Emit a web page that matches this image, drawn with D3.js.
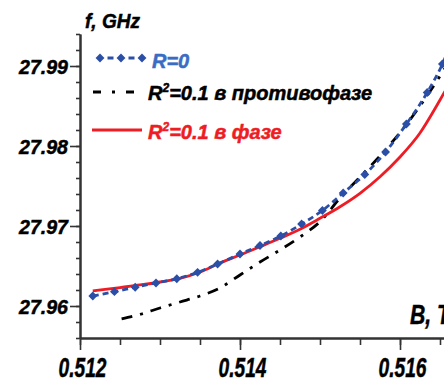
<!DOCTYPE html>
<html>
<head>
<meta charset="utf-8">
<script src="https://cdn.jsdelivr.net/npm/d3@7"></script>
<style>
body { margin: 0; background: #fff; }
svg { display: block; }
text { font-family: "Liberation Sans", Arial, sans-serif; font-weight: bold; font-style: italic; stroke-width: 0.5px; }
</style>
</head>
<body>
<svg id="chart"></svg>
<script>
// magnetic field B, T and frequency f, GHz
var blueB = [0.51216, 0.51243, 0.51269, 0.51295, 0.51321, 0.51347, 0.51372, 0.51400, 0.51425, 0.51451,
	0.51477, 0.51503, 0.51529, 0.51556, 0.51582, 0.51608, 0.51634, 0.51653, 0.51666];
var blueF = [27.96125, 27.96179, 27.96234, 27.96288, 27.96341, 27.96421, 27.96525, 27.96650, 27.96756, 27.96875,
	27.97025, 27.97194, 27.97413, 27.97644, 27.97925, 27.98275, 27.98669, 27.99025, 27.99350];

var blackB = [0.51252, 0.51277, 0.51300, 0.51325, 0.51350, 0.51375, 0.51400, 0.51425, 0.51450, 0.51475,
	0.51500, 0.51525, 0.51550, 0.51575, 0.51600, 0.51625, 0.51660];
var blackF = [27.95838, 27.95900, 27.95975, 27.96050, 27.96125, 27.96225, 27.96388, 27.96550, 27.96700, 27.96863,
	27.97054, 27.97350, 27.97613, 27.97875, 27.98168, 27.98500, 27.99030];

var redB = [0.51216, 0.51250, 0.51275, 0.51300, 0.51325, 0.51350, 0.51375, 0.51400, 0.51425, 0.51450,
	0.51475, 0.51500, 0.51525, 0.51550, 0.51575, 0.51600, 0.51625, 0.51650, 0.51660];
var redF = [27.96188, 27.96231, 27.96263, 27.96300, 27.96344, 27.96425, 27.96538, 27.96638, 27.96741, 27.96846,
	27.96959, 27.97096, 27.97241, 27.97409, 27.97616, 27.97863, 27.98163, 27.98575, 27.98750];

var xMajor = [0.512, 0.514, 0.516];
var xMinor = [0.512, 0.5125, 0.513, 0.5135, 0.514, 0.5145, 0.515, 0.5155, 0.516, 0.5165];
var yMajor = [27.96, 27.97, 27.98, 27.99];
var yMinor = [27.956, 27.958, 27.96, 27.962, 27.964, 27.966, 27.968, 27.97, 27.972, 27.974, 27.976,
	27.978, 27.98, 27.982, 27.984, 27.986, 27.988, 27.99, 27.992, 27.994];

var legendLabels = ["R=0", "=0.1 в противофазе", "=0.1 в фазе"];

var width = 444, height = 382;
var blue = "#2b4ea6", blueText = "#3a6cc4", red = "#ee1c25", axisCol = "#333";

var svg = d3.select("#chart").attr("width", width).attr("height", height);

var xScale = d3.scaleLinear().domain([0.512, 0.51655]).range([80, 444]);
var yScale = d3.scaleLinear().domain([27.956, 27.994]).range([338, 34]);

function zip(a, b){ return a.map(function(d, i){ return {B: d, f: b[i]}; }); }
var blueData = zip(blueB, blueF), blackData = zip(blackB, blackF), redData = zip(redB, redF);

svg.append("clipPath").attr("id", "plotclip")
	.append("rect").attr("x", 80).attr("y", 0).attr("width", 380).attr("height", 338);

var line = d3.line()
	.x(function(d){ return xScale(d.B); })
	.y(function(d){ return yScale(d.f); })
	.curve(d3.curveMonotoneX);

var plot = svg.append("g").attr("clip-path", "url(#plotclip)");

plot.append("path").datum(blackData)
	.attr("d", line).style("fill", "none").style("stroke", "#000")
	.style("stroke-width", 2.8).style("stroke-dasharray", "11,8,3,8");

plot.append("path").datum(redData)
	.attr("d", line).style("fill", "none").style("stroke", red).style("stroke-width", 2.8);

plot.append("path").datum(blueData)
	.attr("d", line).style("fill", "none").style("stroke", blue)
	.style("stroke-width", 2.8).style("stroke-dasharray", "6,4");

var diamond = d3.symbol().type(d3.symbolDiamond2 || d3.symbolDiamond).size(50);
plot.selectAll(".mk").data(blueData).enter().append("path")
	.attr("class", "mk")
	.attr("d", diamond)
	.attr("transform", function(d){ return "translate(" + xScale(d.B) + "," + yScale(d.f) + ")"; })
	.style("fill", blue);

// axes
var gx = svg.append("g").attr("transform", "translate(0,338)");
gx.call(d3.axisBottom(xScale).tickValues(xMinor).tickSize(7).tickSizeOuter(0).tickFormat(""));
gx.append("g").call(d3.axisBottom(xScale).tickValues(xMajor).tickSize(12).tickSizeOuter(0)
	.tickFormat(d3.format(".3f")).tickPadding(4));

var gy = svg.append("g").attr("transform", "translate(80,0)");
gy.call(d3.axisLeft(yScale).tickValues(yMinor).tickSize(4).tickSizeOuter(0).tickFormat(""));
gy.append("g").call(d3.axisLeft(yScale).tickValues(yMajor).tickSize(10).tickSizeOuter(0)
	.tickFormat(d3.format(".2f")).tickPadding(3));

svg.selectAll(".domain").style("stroke", axisCol).style("stroke-width", 2);
svg.selectAll(".tick line").style("stroke", axisCol).style("stroke-width", 1.6);

gx.selectAll(".tick text")
	.attr("y", null).attr("dy", null)
	.attr("x", 2)
	.attr("transform", "translate(0,39)")
	.attr("textLength", 48).attr("lengthAdjust", "spacingAndGlyphs")
	.style("font-size", "28px").style("fill", "#000").style("stroke", "#000")
	.style("font-family", "'Liberation Sans', Arial, sans-serif");

gy.selectAll(".tick text")
	.attr("x", -12).attr("dy", "0.36em")
	.attr("textLength", 49).attr("lengthAdjust", "spacingAndGlyphs")
	.style("font-size", "21px").style("fill", "#000").style("stroke", "#000")
	.style("font-family", "'Liberation Sans', Arial, sans-serif");

// axis titles
svg.append("text").attr("x", 85).attr("y", 28)
	.attr("textLength", 55).attr("lengthAdjust", "spacingAndGlyphs")
	.style("font-size", "21px").style("stroke", "#000").text("f, GHz");

svg.append("text").attr("x", 410).attr("y", 324)
	.attr("textLength", 40).attr("lengthAdjust", "spacingAndGlyphs")
	.style("font-size", "28px").style("stroke", "#000").text("B, T");

// legend
var lg = svg.append("g");
lg.append("line").attr("x1", 100).attr("x2", 142).attr("y1", 58).attr("y2", 58)
	.style("stroke", blue).style("stroke-width", 2.8).style("stroke-dasharray", "0,7.5,6,15,6,50");
lg.selectAll(".lmk").data([100, 121, 142]).enter().append("path")
	.attr("d", diamond)
	.attr("transform", function(d){ return "translate(" + d + ",58)"; })
	.style("fill", blue);
lg.append("text").attr("x", 152).attr("y", 68).style("font-size", "20px")
	.style("fill", blueText).style("stroke", blueText).text(legendLabels[0]);

lg.append("line").attr("x1", 93).attr("x2", 134).attr("y1", 92).attr("y2", 92)
	.style("stroke", "#000").style("stroke-width", 2.8).style("stroke-dasharray", "8,11,3,11,8");
var t2 = lg.append("text").attr("x", 148).attr("y", 100).style("font-size", "20px")
	.style("fill", "#000").style("stroke", "#000");
t2.append("tspan").text("R");
t2.append("tspan").attr("dy", -8).style("font-size", "12px").text("2");
t2.append("tspan").attr("dy", 8).text(legendLabels[1]);

lg.append("line").attr("x1", 92).attr("x2", 142).attr("y1", 130).attr("y2", 130)
	.style("stroke", red).style("stroke-width", 2.8);
var t3 = lg.append("text").attr("x", 148).attr("y", 139).style("font-size", "20px")
	.style("fill", red).style("stroke", red);
t3.append("tspan").text("R");
t3.append("tspan").attr("dy", -8).style("font-size", "12px").text("2");
t3.append("tspan").attr("dy", 8).text(legendLabels[2]);
</script>
</body>
</html>
